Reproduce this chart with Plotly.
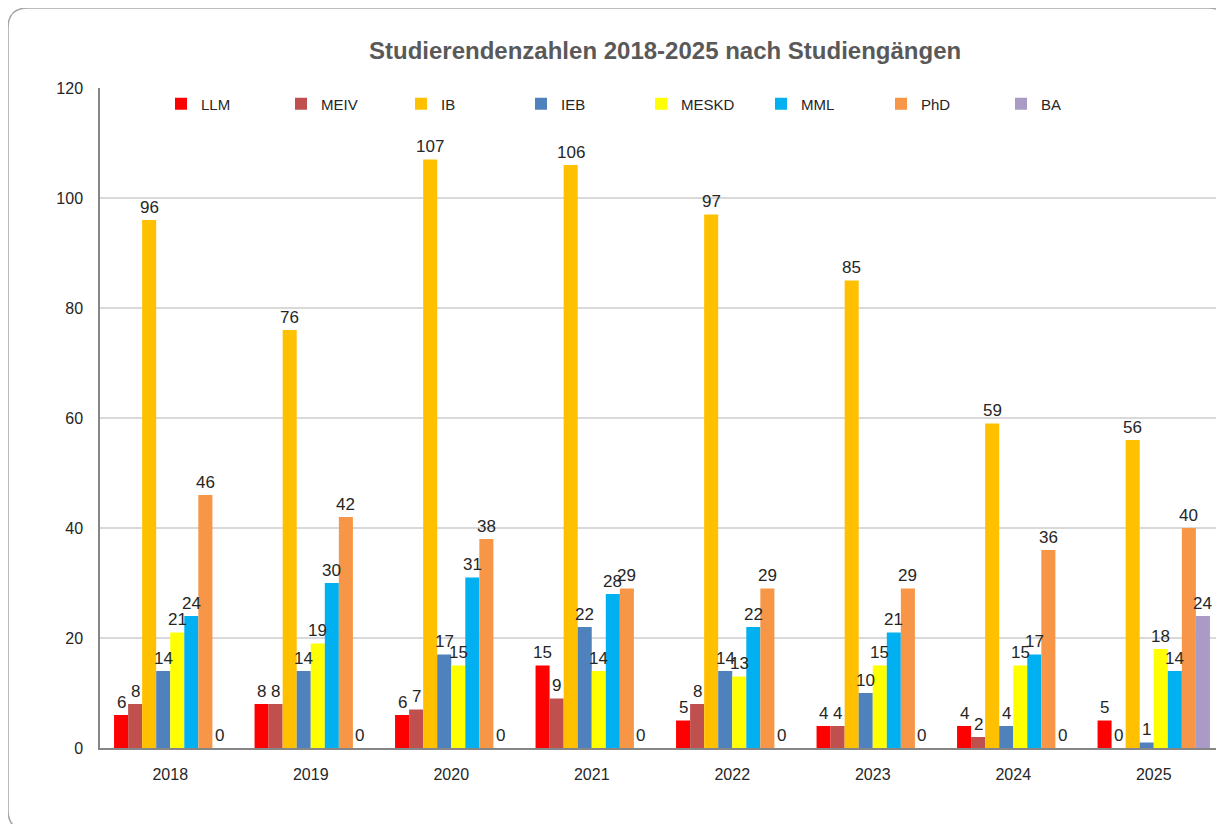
import plotly.graph_objects as go

years = ["2018", "2019", "2020", "2021", "2022", "2023", "2024", "2025"]
series_names = ["LLM", "MEIV", "IB", "IEB", "MESKD", "MML", "PhD", "BA"]
LLM = [6, 8, 6, 15, 5, 4, 4, 5]
MEIV = [8, 8, 7, 9, 8, 4, 2, 0]
IB = [96, 76, 107, 106, 97, 85, 59, 56]
IEB = [14, 14, 17, 22, 14, 10, 4, 1]
MESKD = [21, 19, 15, 14, 13, 15, 15, 18]
MML = [24, 30, 31, 28, 22, 21, 17, 14]
PhD = [46, 42, 38, 29, 29, 29, 36, 40]
BA = [0, 0, 0, 0, 0, 0, 0, 24]
y_ticks = [0, 20, 40, 60, 80, 100, 120]

colors = ["#FF0000", "#C0504D", "#FFC000", "#4F81BD", "#FFFF00", "#00B0F0", "#F79646", "#A99BC6"]
values = [LLM, MEIV, IB, IEB, MESKD, MML, PhD, BA]

W, H = 1224, 824
OFF = 8  # page body margin
# plot area in screen pixels: x 100..1224, y 88..748
ML, MR, MT, MB = 100 - OFF, W - (1224 - OFF), 88 - OFF, H - (748 - OFF)
BARGAP = 0.2
FONT = "Liberation Sans, Arial, sans-serif"

fig = go.Figure()
for name, vals, col in zip(series_names, values, colors):
    fig.add_trace(go.Bar(name=name, x=years, y=vals, marker=dict(color=col, line=dict(width=0))))

pw = W - ML - MR
ph = H - MT - MB
bw = pw / len(years) * (1 - BARGAP) / len(series_names)

def px(x):  # screen x -> paper
    return (x - OFF - ML) / pw
def py(y):  # screen y -> paper
    return (H - MB - (y - OFF)) / ph

annotations = []
for i, vals in enumerate(values):
    off = (i - (len(series_names) - 1) / 2) * bw
    for j, v in enumerate(vals):
        annotations.append(dict(x=j, y=v, xref="x", yref="y", text=str(v), showarrow=False,
                                xshift=off, yshift=13, yanchor="middle",
                                font=dict(family=FONT, size=17, color="#262626")))

annotations.append(dict(text="<b>Studierendenzahlen 2018-2025 nach Studiengängen</b>",
                        xref="paper", yref="paper", x=px(665), y=py(51),
                        xanchor="center", yanchor="middle", showarrow=False,
                        font=dict(family=FONT, size=24, color="#595959")))

L, T, R, B, r = 8, 8, 1228, 830, 20
path = (f"M {px(L)},{py(T + r)} Q {px(L)},{py(T)} {px(L + r)},{py(T)} "
        f"L {px(R - r)},{py(T)} Q {px(R)},{py(T)} {px(R)},{py(T + r)} "
        f"L {px(R)},{py(B - r)} Q {px(R)},{py(B)} {px(R - r)},{py(B)} "
        f"L {px(L + r)},{py(B)} Q {px(L)},{py(B)} {px(L)},{py(B - r)} Z")

fig.update_layout(
    width=W, height=H,
    margin=dict(l=ML, r=MR, t=MT, b=MB, pad=0, autoexpand=False),
    paper_bgcolor="white", plot_bgcolor="white",
    barmode="group", bargap=BARGAP, bargroupgap=0,
    font=dict(family=FONT, size=15, color="#262626"),
    showlegend=True,
    legend=dict(orientation="h", x=px(161), y=py(104), xanchor="left", yanchor="middle",
                entrywidth=75, entrywidthmode="pixels", bgcolor="rgba(0,0,0,0)",
                font=dict(family=FONT, size=15, color="#262626"), traceorder="normal"),
    annotations=annotations,
    shapes=[dict(type="path", path=path, xref="paper", yref="paper",
                 line=dict(color="#A6A6A6", width=1.5), layer="above")],
    xaxis=dict(type="category", range=[-0.5, len(years) - 0.5], showline=True,
               linecolor="#868686", linewidth=1.5, automargin=False,
               ticks="", showgrid=False, tickfont=dict(family=FONT, size=16, color="#262626"),
               ticklabelstandoff=11),
    yaxis=dict(range=[0, 120], tickvals=y_ticks, showline=True, linecolor="#868686", linewidth=1.5,
               automargin=False,
               showgrid=True, gridcolor="#D9D9D9", gridwidth=1.5, ticks="", zeroline=False,
               tickfont=dict(family=FONT, size=16, color="#262626"), ticklabelstandoff=12),
)

fig.write_html("out.html")
